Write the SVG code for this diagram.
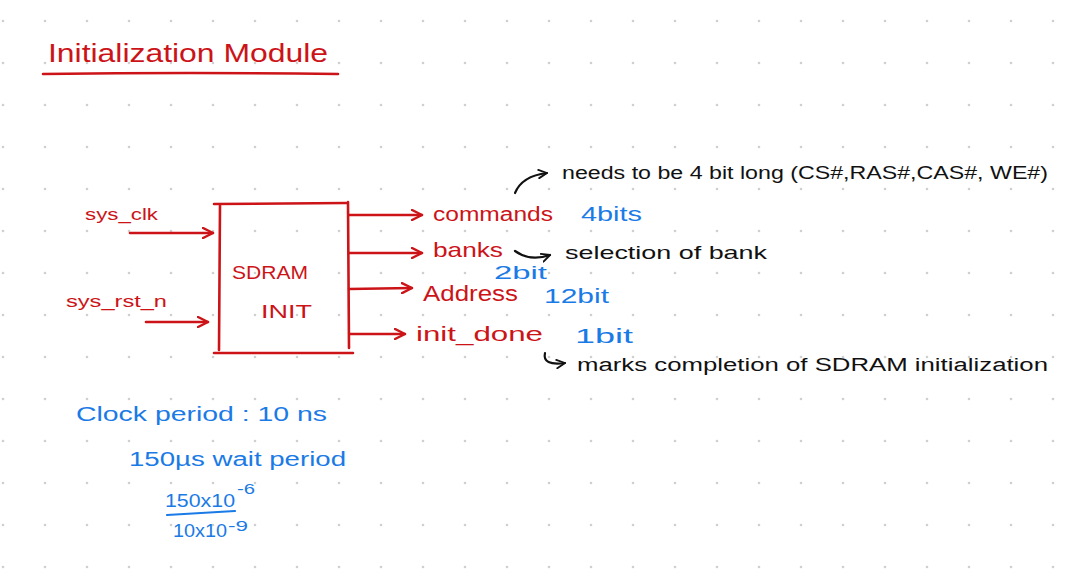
<svg xmlns="http://www.w3.org/2000/svg" width="1073" height="572" viewBox="0 0 1073 572">
  <defs>
    <pattern id="dots" x="0" y="0" width="42" height="42" patternUnits="userSpaceOnUse">
      <circle cx="3" cy="21" r="1.3" fill="#cfcfcf"/>
    </pattern>
    <marker id="arrR" viewBox="0 0 12 12" refX="11" refY="6" markerWidth="12" markerHeight="12" markerUnits="userSpaceOnUse" orient="auto">
      <path d="M1,1 L11,6 L1,11" fill="none" stroke="#cc1418" stroke-width="2.4" stroke-linecap="round" stroke-linejoin="round"/>
    </marker>
    <marker id="arrK" viewBox="0 0 12 12" refX="11" refY="6" markerWidth="10" markerHeight="10" markerUnits="userSpaceOnUse" orient="auto">
      <path d="M1,1 L11,6 L1,11" fill="none" stroke="#111" stroke-width="2.2" stroke-linecap="round" stroke-linejoin="round"/>
    </marker>
  </defs>
  <style>
    .red { fill: #cc1418; font-family: "Liberation Sans", Arial, sans-serif; }
    .blue { fill: #1a7ae6; font-family: "Liberation Sans", Arial, sans-serif; }
    .blk { fill: #111; font-family: "Liberation Sans", Arial, sans-serif; }
    .rl { stroke: #cc1418; stroke-width: 2.6; fill: none; stroke-linecap: round; }
    .bl { stroke: #1a7ae6; stroke-width: 2.2; fill: none; stroke-linecap: round; }
    .kl { stroke: #111; stroke-width: 2.2; fill: none; stroke-linecap: round; }
  </style>
  <rect width="1073" height="572" fill="#ffffff"/>
  <rect width="1073" height="572" fill="url(#dots)"/>

  <g id="title">
    <text class="red" x="48" y="62" font-size="26" textLength="280" lengthAdjust="spacingAndGlyphs">Initialization Module</text>
    <path class="rl" d="M43,74 Q190,72 338,74" stroke-width="3"/>
  </g>

  <g id="sdram_init">
    <path class="rl" d="M214,204 L346,203 M220,204 L219,350 M348,202 L349,348 M214,353 L353,353"/>
    <text class="red" x="232" y="279" font-size="18" textLength="76" lengthAdjust="spacingAndGlyphs">SDRAM</text>
    <text class="red" x="261" y="318" font-size="18" textLength="51" lengthAdjust="spacingAndGlyphs">INIT</text>
  </g>

  <g id="sys_clk">
    <text class="red" x="85" y="220" font-size="17" textLength="73" lengthAdjust="spacingAndGlyphs">sys_clk</text>
  </g>
  <g id="sys_rst_n">
    <text class="red" x="66" y="307" font-size="17" textLength="101" lengthAdjust="spacingAndGlyphs">sys_rst_n</text>
  </g>

  <g id="commands">
    <text class="red" x="433" y="221" font-size="20" textLength="120" lengthAdjust="spacingAndGlyphs">commands</text>
    <text class="blue" x="581" y="221" font-size="20" textLength="61" lengthAdjust="spacingAndGlyphs">4bits</text>
  </g>
  <g id="banks">
    <text class="red" x="433" y="257" font-size="21" textLength="70" lengthAdjust="spacingAndGlyphs">banks</text>
    <text class="blue" x="494" y="279" font-size="18" textLength="53" lengthAdjust="spacingAndGlyphs">2bit</text>
    <text class="blk" x="565" y="259" font-size="19" textLength="202" lengthAdjust="spacingAndGlyphs">selection of bank</text>
  </g>
  <g id="address">
    <text class="red" x="423" y="301" font-size="22" textLength="95" lengthAdjust="spacingAndGlyphs">Address</text>
    <text class="blue" x="544" y="303" font-size="20" textLength="65" lengthAdjust="spacingAndGlyphs">12bit</text>
  </g>
  <g id="init_done">
    <text class="red" x="416" y="341" font-size="21" textLength="127" lengthAdjust="spacingAndGlyphs">init_done</text>
    <text class="blue" x="575" y="343" font-size="20" textLength="58" lengthAdjust="spacingAndGlyphs">1bit</text>
    <text class="blk" x="577" y="371" font-size="18" textLength="471" lengthAdjust="spacingAndGlyphs">marks completion of SDRAM initialization</text>
  </g>
  <g id="note_commands">
    <text class="blk" x="562" y="179" font-size="18" textLength="486" lengthAdjust="spacingAndGlyphs">needs to be 4 bit long (CS#,RAS#,CAS#, WE#)</text>
  </g>

  <g id="timing">
    <text class="blue" x="76" y="421" font-size="20" textLength="251" lengthAdjust="spacingAndGlyphs">Clock period : 10 ns</text>
    <text class="blue" x="129" y="466" font-size="20" textLength="217" lengthAdjust="spacingAndGlyphs">150µs wait period</text>
    <text class="blue" x="165" y="507" font-size="18" textLength="70" lengthAdjust="spacingAndGlyphs">150x10</text>
    <text class="blue" x="237" y="494" font-size="15" textLength="18" lengthAdjust="spacingAndGlyphs">-6</text>
    <path class="bl" d="M167,515 L235,511"/>
    <text class="blue" x="173" y="537" font-size="18" textLength="54" lengthAdjust="spacingAndGlyphs">10x10</text>
    <text class="blue" x="228" y="531" font-size="15" textLength="20" lengthAdjust="spacingAndGlyphs">-9</text>
  </g>

  <g id="connectors">
    <path class="rl" d="M130,233 L213,233" marker-end="url(#arrR)"/>
    <path class="rl" d="M146,322 L208,322" marker-end="url(#arrR)"/>
    <path class="rl" d="M349,215 L422,215" marker-end="url(#arrR)"/>
    <path class="rl" d="M349,253 L422,253" marker-end="url(#arrR)"/>
    <path class="rl" d="M349,289 L412,288" marker-end="url(#arrR)"/>
    <path class="rl" d="M350,334 L405,334" marker-end="url(#arrR)"/>
    <path class="kl" d="M515,193 Q522,176 547,173" marker-end="url(#arrK)"/>
    <path class="kl" d="M515,251 Q530,262 550,255" marker-end="url(#arrK)"/>
    <path class="kl" d="M545,353 Q542,366 565,363" marker-end="url(#arrK)"/>
  </g>
</svg>
